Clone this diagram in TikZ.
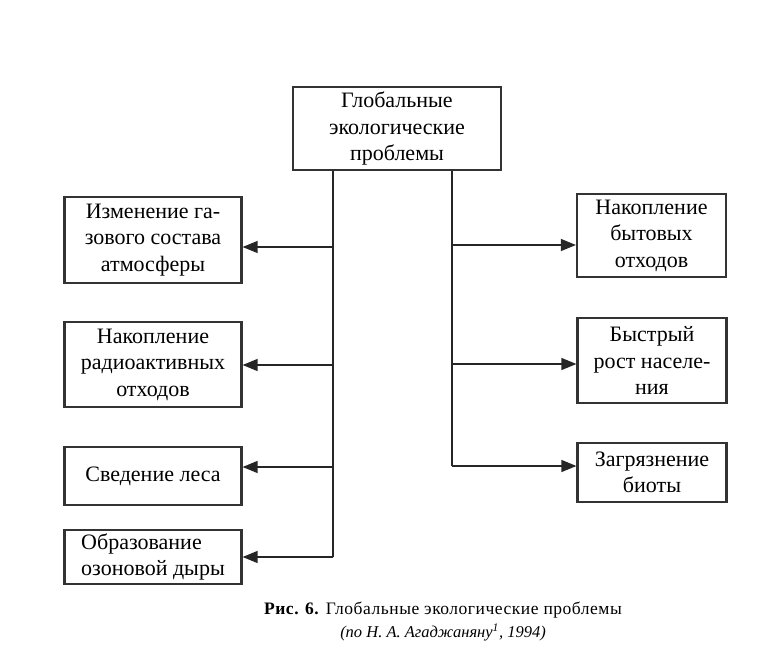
\documentclass[tikz,border=0pt]{standalone}
\usepackage{fontspec}
\setmainfont{Liberation Serif}
\usetikzlibrary{arrows.meta}
\begin{document}
\begin{tikzpicture}[x=1pt,y=-1pt,
  box/.style={draw=black!80,line width=2.2pt,inner sep=0pt,align=center,
    font=\fontsize{22}{26.5}\selectfont},
  conn/.style={line width=1.3pt,black!85},
  arr/.style={conn,-{Triangle[length=15pt,width=12pt]}}]
\useasboundingbox (0,0) rectangle (772,667);
% boxes
\node[box,minimum width=208pt,minimum height=83pt] (top) at (397,128.5) {Глобальные\\экологические\\проблемы};
\node[box,minimum width=177pt,minimum height=86pt] (l1) at (153,240) {Изменение га-\\зового состава\\атмосферы};
\node[box,minimum width=177pt,minimum height=85pt] (l2) at (153,364.5) {Накопление\\радиоактивных\\отходов};
\node[box,minimum width=177pt,minimum height=58pt] (l3) at (153,476) {Сведение леса};
\node[box,minimum width=177pt,minimum height=54pt,align=left] (l4) at (153,557) {Образование\\озоновой дыры};
\node[box,minimum width=149pt,minimum height=83pt] (r1) at (651.5,235.5) {Накопление\\бытовых\\отходов};
\node[box,minimum width=149pt,minimum height=85pt] (r2) at (652,360.5) {Быстрый\\рост населе-\\ния};
\node[box,minimum width=149pt,minimum height=59pt] (r3) at (652,472.5) {Загрязнение\\биоты};
% trunk lines
\coordinate (lt) at (333,557);
\coordinate (rt) at (452,466);
\draw[conn] (top.south -| lt) -- (lt);
\draw[conn] (top.south -| rt) -- (rt);
% branches
\coordinate (a1) at (333,247);
\coordinate (a2) at (333,365);
\coordinate (a3) at (333,467);
\draw[arr] (a1) -- (a1 -| l1.east);
\draw[arr] (a2) -- (a2 -| l2.east);
\draw[arr] (a3) -- (a3 -| l3.east);
\draw[arr] (lt) -- (lt -| l4.east);
\coordinate (b1) at (452,245);
\coordinate (b2) at (452,364);
\draw[arr] (b1) -- (b1 -| r1.west);
\draw[arr] (b2) -- (b2 -| r2.west);
\draw[arr] (rt) -- (rt -| r3.west);
% caption
\node[font=\fontsize{17.5}{23}\selectfont,align=center,inner sep=0pt] (cap) at (443,622)
  {\addfontfeature{LetterSpace=3}\textbf{Рис. 6.} Глобальные экологические проблемы\\
   \fontsize{16.5}{23}\selectfont\textit{(по Н. А. Агаджаняну\textsuperscript{1}, 1994)}};
\end{tikzpicture}
\end{document}
